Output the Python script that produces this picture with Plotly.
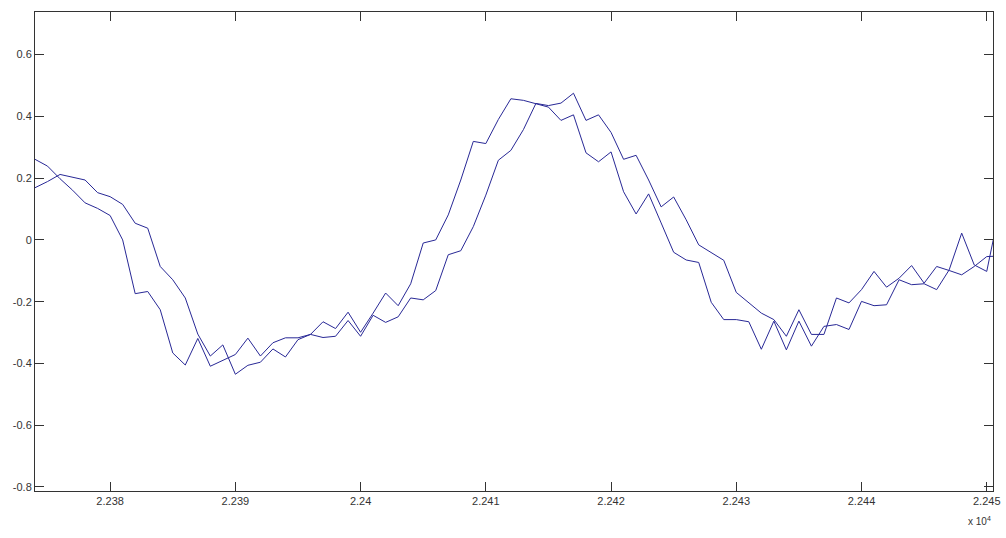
import numpy as np
import plotly.graph_objects as go

# sample positions (one sample per unit, first sample at 22374)
x_start = 22374
n_samples = 78

signal_a = [
    0.261, 0.239, 0.198, 0.161, 0.120, 0.102, 0.079, 0.000, -0.174, -0.167,
    -0.226, -0.366, -0.405, -0.319, -0.409, -0.390, -0.371, -0.318, -0.376, -0.333,
    -0.317, -0.317, -0.306, -0.265, -0.287, -0.234, -0.299, -0.237, -0.172, -0.213,
    -0.142, -0.010, 0.000, 0.081, 0.194, 0.319, 0.312, 0.390, 0.457, 0.452,
    0.440, 0.430, 0.387, 0.405, 0.282, 0.253, 0.285, 0.156, 0.084, 0.149,
    0.055, -0.040, -0.065, -0.073, -0.202, -0.258, -0.258, -0.265, -0.354, -0.263,
    -0.356, -0.263, -0.344, -0.280, -0.274, -0.290, -0.199, -0.213, -0.210, -0.129,
    -0.145, -0.142, -0.161, -0.097, 0.022, -0.081, -0.102, 0.095,
]

signal_b = [
    0.169, 0.189, 0.212, 0.204, 0.194, 0.153, 0.140, 0.115, 0.054, 0.038,
    -0.086, -0.129, -0.188, -0.305, -0.376, -0.340, -0.435, -0.406, -0.396, -0.353,
    -0.379, -0.323, -0.306, -0.316, -0.312, -0.261, -0.312, -0.244, -0.267, -0.249,
    -0.188, -0.194, -0.164, -0.048, -0.035, 0.043, 0.145, 0.258, 0.290, 0.357,
    0.442, 0.435, 0.443, 0.475, 0.387, 0.405, 0.348, 0.261, 0.274, 0.194,
    0.107, 0.139, 0.065, -0.016, -0.040, -0.066, -0.170, -0.204, -0.237, -0.258,
    -0.312, -0.226, -0.306, -0.306, -0.188, -0.204, -0.161, -0.102, -0.153, -0.124,
    -0.083, -0.140, -0.086, -0.099, -0.113, -0.086, -0.054, -0.052,
]

x_ticks = [22380, 22390, 22400, 22410, 22420, 22430, 22440, 22450]
x_tick_labels = ["2.238", "2.239", "2.24", "2.241", "2.242", "2.243", "2.244", "2.245"]
y_ticks = [-0.8, -0.6, -0.4, -0.2, 0, 0.2, 0.4, 0.6]
y_tick_labels = ["-0.8", "-0.6", "-0.4", "-0.2", "0", "0.2", "0.4", "0.6"]

x = x_start + np.arange(n_samples)

line_color = "rgb(40,40,150)"
axis_color = "#333333"
font = dict(family="Liberation Sans, Arial, sans-serif", size=11, color="#333333")

fig = go.Figure()
for series in (signal_a, signal_b):
    fig.add_trace(go.Scatter(
        x=x, y=series, mode="lines",
        line=dict(color=line_color, width=1),
        showlegend=False, hoverinfo="skip",
    ))

axis_common = dict(
    showgrid=False, zeroline=False, showline=True, linecolor=axis_color,
    linewidth=1, mirror="ticks", ticks="inside", ticklen=9, tickwidth=1,
    tickcolor=axis_color, tickfont=font, ticklabeloverflow="allow",
)

fig.update_layout(
    width=1006, height=538,
    margin=dict(l=35, r=6, t=12, b=47),
    paper_bgcolor="white", plot_bgcolor="white",
    xaxis=dict(range=[22374, 22450.5], tickmode="array", tickvals=x_ticks,
               ticktext=x_tick_labels, **axis_common),
    yaxis=dict(range=[-0.813, 0.738], tickmode="array", tickvals=y_ticks,
               ticktext=y_tick_labels, **axis_common),
    annotations=[dict(
        text="x 10<sup>4</sup>", xref="paper", yref="paper",
        x=1.0, y=-0.045, xanchor="right", yanchor="top",
        showarrow=False, font=dict(family=font["family"], size=10, color="#333333"),
    )],
)

fig.write_html("out.html")
